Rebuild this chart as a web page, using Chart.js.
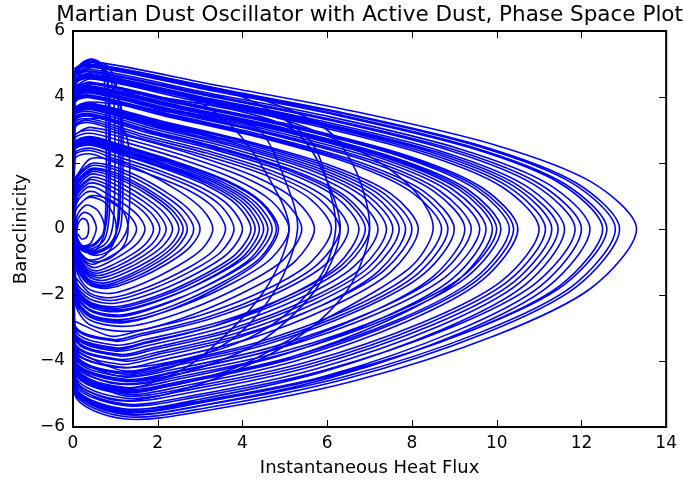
<!DOCTYPE html>
<html>
<head>
<meta charset="utf-8">
<title>Martian Dust Oscillator phase space</title>
<script src="https://cdn.jsdelivr.net/npm/chart.js"></script>
<style>
  body { margin: 0; background: #fff; }
  canvas { display: block; }
</style>
</head>
<body>
<canvas id="phase" width="683" height="481"></canvas>
<script>
// tick values
const xTicks = [0, 2, 4, 6, 8, 10, 12, 14];
const yTicks = [-6, -4, -2, 0, 2, 4, 6];
const chartTitle = 'Martian Dust Oscillator with Active Dust, Phase Space Plot';

// trajectory loops, [heat flux, baroclinicity]
// widest loops, tips out at 11 - 13.3
const outerLoops = [
  [[0.03,4.86],[0.4,5.08],[3.33,4.37],[6.65,3.56],[9.98,2.54],[12.24,1.42],[13.3,0],[12.24,-1.78],[9.98,-3.22],[6.65,-4.6],[3.33,-5.46],[1.2,-5.75],[0.03,-4.95]],
  [[0.04,4.79],[0.4,5.0],[3.23,4.3],[6.45,3.5],[9.68,2.5],[11.87,1.4],[12.9,0],[11.87,-1.76],[9.68,-3.18],[6.45,-4.54],[3.23,-5.4],[1.2,-5.68],[0.04,-4.88]],
  [[0.04,4.77],[0.4,4.98],[3.2,4.28],[6.4,3.49],[9.6,2.49],[11.78,1.39],[12.8,0],[11.78,-1.74],[9.6,-3.14],[6.4,-4.48],[3.2,-5.32],[1.2,-5.6],[0.04,-4.82]],
  [[0.03,4.73],[0.4,4.94],[3.15,4.25],[6.3,3.46],[9.45,2.47],[11.59,1.38],[12.6,0],[11.59,-1.69],[9.45,-3.05],[6.3,-4.36],[3.15,-5.18],[1.2,-5.45],[0.03,-4.69]],
  [[0.03,4.71],[0.4,4.92],[3.13,4.23],[6.25,3.44],[9.38,2.46],[11.5,1.38],[12.5,0],[11.5,-1.71],[9.38,-3.08],[6.25,-4.4],[3.13,-5.23],[1.2,-5.5],[0.03,-4.73]],
  [[0.05,4.63],[0.4,4.84],[3.05,4.16],[6.1,3.39],[9.15,2.42],[11.22,1.36],[12.2,0],[11.22,-1.74],[9.15,-3.15],[6.1,-4.5],[3.05,-5.34],[1.2,-5.62],[0.05,-4.83]],
  [[0.04,4.58],[0.4,4.79],[3.0,4.12],[6.0,3.35],[9.0,2.4],[11.04,1.34],[12.0,0],[11.04,-1.72],[9.0,-3.11],[6.0,-4.44],[3.0,-5.27],[1.2,-5.55],[0.04,-4.77]],
  [[0.03,4.56],[0.4,4.76],[2.96,4.09],[5.93,3.33],[8.89,2.38],[10.9,1.33],[11.85,0],[10.9,-1.66],[8.89,-3.0],[5.93,-4.28],[2.96,-5.08],[1.2,-5.35],[0.03,-4.6]],
  [[0.04,4.5],[0.4,4.7],[2.9,4.04],[5.8,3.29],[8.7,2.35],[10.67,1.32],[11.6,0],[10.67,-1.69],[8.7,-3.05],[5.8,-4.36],[2.9,-5.18],[1.2,-5.45],[0.04,-4.69]],
  [[0.05,4.46],[0.4,4.66],[2.86,4.01],[5.73,3.26],[8.59,2.33],[10.53,1.3],[11.45,0],[10.53,-1.64],[8.59,-2.97],[5.73,-4.24],[2.86,-5.04],[1.2,-5.3],[0.05,-4.56]],
  [[0.03,4.43],[0.4,4.63],[2.83,3.98],[5.65,3.24],[8.48,2.32],[10.4,1.3],[11.3,0],[10.4,-1.61],[8.48,-2.91],[5.65,-4.16],[2.83,-4.94],[1.2,-5.2],[0.03,-4.47]],
  [[0.04,4.4],[0.4,4.6],[2.79,3.96],[5.58,3.22],[8.36,2.3],[10.26,1.29],[11.15,0],[10.26,-1.59],[8.36,-2.87],[5.58,-4.1],[2.79,-4.86],[1.2,-5.12],[0.04,-4.4]],
  [[0.05,4.36],[0.4,4.56],[2.75,3.92],[5.5,3.19],[8.25,2.28],[10.12,1.28],[11.0,0],[10.12,-1.57],[8.25,-2.83],[5.5,-4.04],[2.75,-4.8],[1.2,-5.05],[0.05,-4.34]]
];

// tips at 8.7 - 10.5
const upperLoops = [
  [[0.03,4.26],[0.4,4.45],[2.63,3.83],[5.25,3.12],[7.88,2.23],[9.66,1.25],[10.5,0],[9.66,-1.55],[7.88,-2.8],[5.25,-4.0],[2.63,-4.75],[1.2,-5.0],[0.03,-4.3]],
  [[0.05,4.23],[0.4,4.42],[2.6,3.8],[5.2,3.09],[7.8,2.21],[9.57,1.24],[10.4,0],[9.57,-1.52],[7.8,-2.74],[5.2,-3.92],[2.6,-4.66],[1.2,-4.9],[0.05,-4.21]],
  [[0.04,4.21],[0.4,4.4],[2.58,3.78],[5.15,3.08],[7.73,2.2],[9.48,1.23],[10.3,0],[9.48,-1.5],[7.73,-2.72],[5.15,-3.88],[2.58,-4.61],[1.2,-4.85],[0.04,-4.17]],
  [[0.03,4.15],[0.4,4.34],[2.53,3.73],[5.05,3.04],[7.58,2.17],[9.29,1.22],[10.1,0],[9.29,-1.46],[7.58,-2.63],[5.05,-3.76],[2.53,-4.47],[1.2,-4.7],[0.03,-4.04]],
  [[0.04,4.12],[0.4,4.31],[2.5,3.71],[5.0,3.02],[7.5,2.16],[9.2,1.21],[10.0,0],[9.2,-1.43],[7.5,-2.59],[5.0,-3.7],[2.5,-4.39],[1.2,-4.62],[0.04,-3.97]],
  [[0.05,4.1],[0.4,4.28],[2.48,3.68],[4.95,3.0],[7.43,2.14],[9.11,1.2],[9.9,0],[9.11,-1.53],[7.43,-2.77],[4.95,-3.96],[2.48,-4.7],[1.2,-4.95],[0.05,-4.26]],
  [[0.03,4.07],[0.4,4.25],[2.44,3.66],[4.88,2.98],[7.31,2.13],[8.97,1.19],[9.75,0],[8.97,-1.49],[7.31,-2.69],[4.88,-3.84],[2.44,-4.56],[1.2,-4.8],[0.03,-4.13]],
  [[0.03,4.02],[0.4,4.2],[2.4,3.61],[4.8,2.94],[7.2,2.1],[8.83,1.18],[9.6,0],[8.83,-1.41],[7.2,-2.55],[4.8,-3.64],[2.4,-4.32],[1.2,-4.55],[0.03,-3.91]],
  [[0.05,3.98],[0.4,4.16],[2.35,3.58],[4.7,2.91],[7.05,2.08],[8.65,1.16],[9.4,0],[8.65,-1.39],[7.05,-2.51],[4.7,-3.58],[2.35,-4.26],[1.2,-4.48],[0.05,-3.85]],
  [[0.04,3.94],[0.4,4.12],[2.31,3.54],[4.63,2.88],[6.94,2.06],[8.51,1.15],[9.25,0],[8.51,-1.43],[6.94,-2.58],[4.63,-3.68],[2.31,-4.37],[1.2,-4.6],[0.04,-3.96]],
  [[0.03,3.89],[0.4,4.06],[2.25,3.49],[4.5,2.84],[6.75,2.03],[8.28,1.14],[9.0,0],[8.28,-1.36],[6.75,-2.46],[4.5,-3.52],[2.25,-4.18],[1.2,-4.4],[0.03,-3.78]],
  [[0.04,3.85],[0.4,4.02],[2.21,3.46],[4.43,2.81],[6.64,2.01],[8.14,1.13],[8.85,0],[8.14,-1.35],[6.64,-2.44],[4.43,-3.48],[2.21,-4.13],[1.2,-4.35],[0.04,-3.74]],
  [[0.05,3.81],[0.4,3.98],[2.18,3.42],[4.35,2.79],[6.53,1.99],[8.0,1.11],[8.7,0],[8.0,-1.33],[6.53,-2.41],[4.35,-3.44],[2.18,-4.09],[1.2,-4.3],[0.05,-3.7]]
];

// tips at 6.1 - 8.2
const middleLoops = [
  [[0.03,3.66],[0.4,3.82],[2.04,3.29],[4.08,2.67],[6.11,1.91],[7.5,1.07],[8.15,0],[7.5,-1.3],[6.11,-2.35],[4.08,-3.36],[2.04,-3.99],[1.2,-4.2],[0.03,-3.61]],
  [[0.04,3.62],[0.4,3.78],[2.0,3.25],[4.0,2.65],[6.0,1.89],[7.36,1.06],[8.0,0],[7.36,-1.24],[6.0,-2.24],[4.0,-3.2],[2.0,-3.8],[1.2,-4.0],[0.04,-3.44]],
  [[0.05,3.58],[0.4,3.74],[1.96,3.22],[3.93,2.62],[5.89,1.87],[7.22,1.05],[7.85,0],[7.22,-1.27],[5.89,-2.3],[3.93,-3.28],[1.96,-3.9],[1.1,-4.1],[0.05,-3.53]],
  [[0.03,3.54],[0.4,3.7],[1.93,3.18],[3.85,2.59],[5.78,1.85],[7.08,1.04],[7.7,0],[7.08,-1.22],[5.78,-2.21],[3.85,-3.16],[1.93,-3.75],[1.1,-3.95],[0.03,-3.4]],
  [[0.04,3.5],[0.4,3.66],[1.89,3.15],[3.78,2.56],[5.66,1.83],[6.95,1.02],[7.55,0],[6.95,-1.19],[5.66,-2.16],[3.78,-3.08],[1.89,-3.66],[1.1,-3.85],[0.04,-3.31]],
  [[0.05,3.46],[0.4,3.62],[1.85,3.11],[3.7,2.53],[5.55,1.81],[6.81,1.01],[7.4,0],[6.81,-1.18],[5.55,-2.13],[3.7,-3.04],[1.85,-3.61],[1.1,-3.8],[0.05,-3.27]],
  [[0.03,3.41],[0.4,3.56],[1.8,3.06],[3.6,2.49],[5.4,1.78],[6.62,1.0],[7.2,0],[6.62,-1.15],[5.4,-2.07],[3.6,-2.96],[1.8,-3.52],[1.0,-3.7],[0.03,-3.18]],
  [[0.03,3.35],[0.4,3.5],[1.75,3.01],[3.5,2.45],[5.25,1.75],[6.44,0.98],[7.0,0],[6.44,-1.12],[5.25,-2.02],[3.5,-2.88],[1.75,-3.42],[1.0,-3.6],[0.03,-3.1]],
  [[0.05,3.31],[0.4,3.46],[1.73,2.98],[3.45,2.42],[5.18,1.73],[6.35,0.97],[6.9,0],[6.35,-1.09],[5.18,-1.97],[3.45,-2.82],[1.73,-3.34],[1.0,-3.52],[0.05,-3.03]],
  [[0.04,3.27],[0.4,3.42],[1.69,2.94],[3.38,2.39],[5.06,1.71],[6.21,0.96],[6.75,0],[6.21,-1.13],[5.06,-2.04],[3.38,-2.92],[1.69,-3.47],[1.0,-3.65],[0.04,-3.14]],
  [[0.03,3.2],[0.4,3.34],[1.63,2.87],[3.25,2.34],[4.88,1.67],[5.98,0.94],[6.5,0],[5.98,-1.05],[4.88,-1.9],[3.25,-2.72],[1.63,-3.23],[1.0,-3.4],[0.03,-2.92]],
  [[0.04,3.14],[0.4,3.28],[1.58,2.82],[3.15,2.3],[4.73,1.64],[5.8,0.92],[6.3,0],[5.8,-1.04],[4.73,-1.88],[3.15,-2.68],[1.58,-3.18],[0.95,-3.35],[0.04,-2.88]],
  [[0.05,3.08],[0.4,3.22],[1.53,2.77],[3.05,2.25],[4.58,1.61],[5.61,0.9],[6.1,0],[5.61,-1.01],[4.58,-1.82],[3.05,-2.6],[1.53,-3.09],[0.9,-3.25],[0.05,-2.8]]
];

// tips at 3.6 - 5.7
const innerLoops = [
  [[0.03,2.86],[0.4,3.08],[1.43,2.77],[2.85,2.25],[4.28,1.6],[5.24,0.89],[5.7,0],[5.24,-0.98],[4.28,-1.76],[2.85,-2.58],[1.43,-3.09],[0.4,-2.9],[0.05,-2.2]],
  [[0.04,2.79],[0.4,3.0],[1.35,2.7],[2.7,2.19],[4.05,1.56],[4.97,0.87],[5.4,0],[4.97,-0.93],[4.05,-1.68],[2.7,-2.46],[1.35,-2.94],[0.4,-2.76],[0.05,-2.1]],
  [[0.03,2.7],[0.4,2.9],[1.28,2.61],[2.55,2.12],[3.83,1.51],[4.69,0.84],[5.1,0],[4.69,-0.88],[3.83,-1.6],[2.55,-2.34],[1.28,-2.79],[0.4,-2.62],[0.06,-2.0]],
  [[0.05,2.6],[0.4,2.8],[1.21,2.52],[2.43,2.04],[3.64,1.46],[4.46,0.81],[4.85,0],[4.46,-0.9],[3.64,-1.62],[2.43,-2.38],[1.21,-2.84],[0.4,-2.67],[0.05,-2.03]],
  [[0.04,2.59],[0.4,2.78],[1.2,2.5],[2.4,2.03],[3.6,1.45],[4.42,0.81],[4.8,0],[4.42,-0.87],[3.6,-1.57],[2.4,-2.3],[1.2,-2.74],[0.4,-2.58],[0.05,-1.96]],
  [[0.03,2.55],[0.4,2.74],[1.18,2.47],[2.35,2.0],[3.53,1.42],[4.32,0.79],[4.7,0],[4.32,-0.82],[3.53,-1.48],[2.35,-2.17],[1.18,-2.6],[0.4,-2.44],[0.06,-1.86]],
  [[0.05,2.51],[0.4,2.7],[1.15,2.43],[2.3,1.97],[3.45,1.4],[4.23,0.78],[4.6,0],[4.23,-0.84],[3.45,-1.51],[2.3,-2.21],[1.15,-2.65],[0.4,-2.48],[0.05,-1.89]],
  [[0.03,2.46],[0.4,2.65],[1.13,2.39],[2.25,1.93],[3.38,1.38],[4.14,0.77],[4.5,0],[4.14,-0.78],[3.38,-1.4],[2.25,-2.05],[1.13,-2.45],[0.4,-2.3],[0.06,-1.75]],
  [[0.04,2.44],[0.4,2.62],[1.1,2.36],[2.2,1.91],[3.3,1.36],[4.05,0.76],[4.4,0],[4.05,-0.79],[3.3,-1.43],[2.2,-2.09],[1.1,-2.5],[0.4,-2.35],[0.05,-1.79]],
  [[0.05,2.4],[0.4,2.58],[1.08,2.32],[2.15,1.88],[3.23,1.34],[3.96,0.75],[4.3,0],[3.96,-0.76],[3.23,-1.37],[2.15,-2.01],[1.08,-2.4],[0.4,-2.25],[0.06,-1.72]],
  [[0.03,2.36],[0.4,2.54],[1.05,2.29],[2.1,1.85],[3.15,1.32],[3.86,0.74],[4.2,0],[3.86,-0.74],[3.15,-1.34],[2.1,-1.97],[1.05,-2.35],[0.4,-2.21],[0.06,-1.68]],
  [[0.05,2.28],[0.4,2.45],[1.0,2.21],[2.0,1.79],[3.0,1.27],[3.68,0.71],[4.0,0],[3.68,-0.71],[3.0,-1.29],[2.0,-1.89],[1.0,-2.25],[0.4,-2.12],[0.06,-1.61]],
  [[0.04,2.21],[0.4,2.38],[0.95,2.14],[1.9,1.74],[2.85,1.24],[3.5,0.69],[3.8,0],[3.5,-0.68],[2.85,-1.23],[1.9,-1.8],[0.95,-2.16],[0.4,-2.02],[0.07,-1.54]],
  [[0.05,2.12],[0.4,2.28],[0.9,2.05],[1.8,1.66],[2.7,1.19],[3.31,0.66],[3.6,0],[3.31,-0.66],[2.7,-1.19],[1.8,-1.74],[0.9,-2.08],[0.4,-1.95],[0.07,-1.48]]
];

// ring cluster, tips at 1.5 - 3.3
const ringLoops = [
  [[0.05,1.55],[0.4,2.12],[0.9,2.1],[1.65,1.75],[2.5,1.15],[3.05,0.6],[3.3,0],[3.05,-0.6],[2.5,-1.1],[1.65,-1.65],[0.9,-1.95],[0.35,-1.8],[0.08,-1.2]],
  [[0.05,1.45],[0.4,1.97],[0.8,1.95],[1.5,1.62],[2.25,1.07],[2.76,0.56],[3.0,0],[2.76,-0.55],[2.25,-1.03],[1.5,-1.52],[0.8,-1.8],[0.35,-1.66],[0.08,-1.1]],
  [[0.05,1.38],[0.4,1.9],[0.78,1.88],[1.43,1.56],[2.14,1.03],[2.62,0.54],[2.85,0],[2.62,-0.54],[2.14,-1.0],[1.43,-1.48],[0.78,-1.75],[0.35,-1.6],[0.08,-1.05]],
  [[0.05,1.3],[0.4,1.82],[0.75,1.8],[1.35,1.5],[2.03,0.99],[2.48,0.52],[2.7,0],[2.48,-0.52],[2.03,-0.98],[1.35,-1.44],[0.75,-1.7],[0.35,-1.55],[0.08,-1.0]],
  [[0.05,1.25],[0.4,1.78],[0.72,1.76],[1.3,1.46],[1.95,0.97],[2.39,0.5],[2.6,0],[2.39,-0.5],[1.95,-0.95],[1.3,-1.4],[0.72,-1.64],[0.35,-1.5],[0.09,-0.95]],
  [[0.05,1.2],[0.4,1.72],[0.7,1.7],[1.25,1.42],[1.88,0.94],[2.3,0.49],[2.5,0],[2.3,-0.48],[1.88,-0.9],[1.25,-1.32],[0.7,-1.56],[0.35,-1.42],[0.1,-0.9]],
  [[0.06,1.12],[0.4,1.65],[0.68,1.62],[1.18,1.35],[1.76,0.9],[2.16,0.47],[2.35,0],[2.16,-0.46],[1.76,-0.86],[1.18,-1.26],[0.65,-1.48],[0.32,-1.33],[0.1,-0.82]],
  [[0.06,1.05],[0.4,1.55],[0.65,1.53],[1.1,1.28],[1.65,0.85],[2.02,0.45],[2.2,0],[2.02,-0.44],[1.65,-0.82],[1.1,-1.2],[0.6,-1.41],[0.3,-1.25],[0.1,-0.75]],
  [[0.06,0.98],[0.38,1.48],[0.62,1.45],[1.03,1.2],[1.54,0.8],[1.89,0.42],[2.05,0],[1.89,-0.42],[1.54,-0.78],[1.03,-1.14],[0.58,-1.34],[0.29,-1.18],[0.1,-0.7]],
  [[0.06,0.9],[0.35,1.37],[0.6,1.36],[0.95,1.13],[1.43,0.76],[1.75,0.4],[1.9,0],[1.75,-0.4],[1.43,-0.74],[0.95,-1.08],[0.55,-1.27],[0.28,-1.1],[0.1,-0.65]],
  [[0.07,0.8],[0.32,1.25],[0.55,1.25],[0.85,1.03],[1.28,0.69],[1.56,0.37],[1.7,0],[1.56,-0.37],[1.28,-0.68],[0.85,-1.0],[0.5,-1.17],[0.27,-1.0],[0.1,-0.58]],
  [[0.07,0.7],[0.3,1.1],[0.5,1.13],[0.75,0.93],[1.13,0.62],[1.38,0.33],[1.5,0],[1.38,-0.34],[1.13,-0.63],[0.75,-0.92],[0.45,-1.07],[0.25,-0.92],[0.1,-0.5]]
];

// small arcs hugging the origin
const coreLoops = [
  [[0.06,0.6],[0.4,1.0],[0.85,0.9],[1.2,0.5],[1.3,0],[1.2,-0.5],[0.85,-0.9],[0.4,-0.98],[0.08,-0.6]],
  [[0.05,0.5],[0.35,0.95],[0.7,0.85],[0.95,0.45],[1.02,0],[0.95,-0.45],[0.7,-0.85],[0.35,-0.92],[0.08,-0.5]],
  [[0.08,0.35],[0.3,0.72],[0.55,0.6],[0.7,0.3],[0.75,0],[0.7,-0.3],[0.55,-0.62],[0.3,-0.7],[0.1,-0.35]],
  [[0.1,0.25],[0.25,0.5],[0.42,0.42],[0.52,0.2],[0.55,0],[0.5,-0.22],[0.4,-0.45],[0.22,-0.5],[0.1,-0.25]],
  [[0.12,0.15],[0.22,0.32],[0.33,0.25],[0.37,0],[0.32,-0.25],[0.2,-0.3],[0.12,-0.15]]
];

// tall narrow loops dropping straight down near x = 1
const tallLoops = [
  [[0.03,4.5],[0.15,4.95],[0.4,5.12],[0.62,5.0],[0.74,4.5],[0.78,3.0],[0.78,1.0],[0.72,-0.1],[0.5,-0.5],[0.2,-0.55],[0.05,-0.3]],
  [[0.03,4.6],[0.18,5.0],[0.42,5.15],[0.66,5.02],[0.8,4.55],[0.84,3.0],[0.83,1.2],[0.76,0.0],[0.5,-0.45],[0.18,-0.5],[0.04,-0.25]],
  [[0.03,4.4],[0.15,4.85],[0.45,5.05],[0.72,4.85],[0.85,4.2],[0.88,2.5],[0.86,0.5],[0.75,-0.3],[0.45,-0.6],[0.15,-0.5],[0.04,-0.2]],
  [[0.03,4.3],[0.2,4.75],[0.5,4.9],[0.82,4.75],[0.96,4.0],[0.99,2.0],[0.95,0.2],[0.8,-0.4],[0.45,-0.65],[0.15,-0.5],[0.04,-0.3]],
  [[0.03,4.5],[0.2,4.95],[0.5,5.08],[0.85,4.9],[1.04,4.2],[1.08,2.2],[1.04,0.0],[0.85,-0.5],[0.5,-0.7],[0.15,-0.55],[0.04,-0.3]],
  [[0.03,4.2],[0.2,4.62],[0.5,4.75],[0.88,4.6],[1.1,3.9],[1.13,2.0],[1.08,0.2],[0.88,-0.45],[0.5,-0.68],[0.15,-0.55],[0.04,-0.3]],
  [[0.03,3.9],[0.2,4.3],[0.55,4.4],[0.95,4.25],[1.15,3.6],[1.18,1.8],[1.13,0.1],[0.9,-0.5],[0.5,-0.75],[0.15,-0.6],[0.04,-0.3]],
  [[0.03,3.0],[0.25,3.3],[0.65,3.35],[1.1,3.2],[1.3,2.6],[1.34,1.2],[1.28,0.0],[1.0,-0.55],[0.55,-0.8],[0.2,-0.6],[0.05,-0.3]]
];

// loops that cut steeply across the bands
const steepLoops = [
  [[0.03,4.3],[0.4,4.55],[1.5,4.35],[2.8,3.95],[3.76,3.1],[4.6,1.6],[5.1,0],[4.5,-1.9],[3.0,-3.9],[2.0,-4.6],[1.1,-4.85],[0.2,-4.4],[0.03,-3.9]],
  [[0.03,3.6],[0.4,3.85],[2.0,3.6],[3.5,3.35],[4.4,3.0],[5.0,1.5],[5.3,0],[4.8,-1.8],[3.8,-3.3],[2.3,-4.2],[1.1,-4.45],[0.2,-4.0],[0.03,-3.5]],
  [[0.03,4.6],[0.4,4.9],[2.0,4.55],[4.0,4.0],[5.58,2.7],[6.05,1.2],[6.2,0],[5.9,-1.3],[5.2,-2.4],[4.16,-3.3],[2.75,-3.9],[1.2,-4.2],[0.2,-3.9],[0.03,-3.4]],
  [[0.03,4.0],[0.4,4.25],[2.0,4.0],[4.0,3.55],[5.2,3.0],[5.8,2.0],[6.3,0.2],[6.1,-1.0],[5.5,-2.2],[4.3,-3.5],[2.5,-4.4],[1.1,-4.7],[0.2,-4.3],[0.03,-3.8]],
  [[0.03,4.7],[0.4,4.98],[2.5,4.5],[4.5,3.9],[6.0,3.0],[6.7,1.7],[7.0,0],[6.6,-1.6],[5.8,-2.8],[4.5,-3.9],[2.5,-4.9],[1.1,-5.2],[0.2,-4.8],[0.03,-4.3]],
  [[0.03,4.4],[0.4,4.62],[2.5,4.1],[5.0,3.3],[7.0,2.2],[8.1,1.1],[8.5,0],[7.93,-1.2],[5.58,-3.0],[3.76,-4.24],[1.5,-4.9],[0.2,-4.6],[0.03,-4.1]]
];

const loopGroups = [outerLoops, upperLoops, middleLoops, innerLoops, ringLoops, coreLoops, tallLoops, steepLoops];

Chart.defaults.font.family = '"DejaVu Sans", sans-serif';
Chart.defaults.color = '#000';

const minus = v => String(v).replace('-', '\u2212');

// title centred over the plot box, the way matplotlib puts it
const plotTitle = {
  id: 'plotTitle',
  afterDraw(chart) {
    const { ctx, chartArea: a } = chart;
    ctx.save();
    ctx.fillStyle = '#000';
    ctx.font = '21.5px "DejaVu Sans", sans-serif';
    ctx.textAlign = 'center';
    ctx.textBaseline = 'middle';
    ctx.fillText(chartTitle, (a.left + a.right) / 2, 15);
    ctx.restore();
  }
};

// matplotlib style box with inward ticks on all four sides
const boxTicks = {
  id: 'boxTicks',
  afterDatasetsDraw(chart) {
    const { ctx, chartArea: a, scales: { x, y } } = chart;
    ctx.save();
    ctx.strokeStyle = '#000';
    ctx.lineWidth = 1;
    ctx.beginPath();
    xTicks.forEach(v => {
      const px = Math.round(x.getPixelForValue(v)) + 0.5;
      ctx.moveTo(px, a.bottom); ctx.lineTo(px, a.bottom - 7);
      ctx.moveTo(px, a.top); ctx.lineTo(px, a.top + 7);
    });
    yTicks.forEach(v => {
      const py = Math.round(y.getPixelForValue(v)) + 0.5;
      ctx.moveTo(a.left, py); ctx.lineTo(a.left + 7, py);
      ctx.moveTo(a.right, py); ctx.lineTo(a.right - 7, py);
    });
    ctx.stroke();
    ctx.lineWidth = 2;
    ctx.strokeRect(a.left, a.top, a.right - a.left, a.bottom - a.top);
    ctx.restore();
  }
};

new Chart(document.getElementById('phase'), {
  type: 'scatter',
  data: {
    datasets: loopGroups.map(g => ({
      data: g.flat().map(p => ({ x: p[0], y: p[1] })),
      showLine: true,
      borderColor: '#0000ff',
      borderWidth: 1.6,
      pointRadius: 0,
      tension: 0.3,
      fill: false
    }))
  },
  options: {
    responsive: false,
    animation: false,
    layout: { padding: { left: 0, right: 15, top: 31, bottom: 0 } },
    plugins: {
      legend: { display: false },
      tooltip: { enabled: false },
      title: { display: false }
    },
    scales: {
      x: {
        type: 'linear',
        min: 0, max: 14,
        afterBuildTicks: s => { s.ticks = xTicks.map(v => ({ value: v })); },
        afterFit: s => { s.height = 54; },
        grid: { display: false, drawTicks: false },
        border: { display: false },
        ticks: { font: { size: 17 }, padding: 6, maxRotation: 0, callback: minus },
        title: { display: true, text: 'Instantaneous Heat Flux', font: { size: 18 }, padding: { top: 0, bottom: 2 } }
      },
      y: {
        type: 'linear',
        min: -6, max: 6,
        afterBuildTicks: s => { s.ticks = yTicks.map(v => ({ value: v })); },
        afterFit: s => { s.width = 73; },
        grid: { display: false, drawTicks: false },
        border: { display: false },
        ticks: { font: { size: 17 }, padding: 8, callback: minus },
        title: { display: true, text: 'Baroclinicity', font: { size: 18 }, padding: { top: 11, bottom: 0 } }
      }
    }
  },
  plugins: [boxTicks, plotTitle]
});
</script>
</body>
</html>
